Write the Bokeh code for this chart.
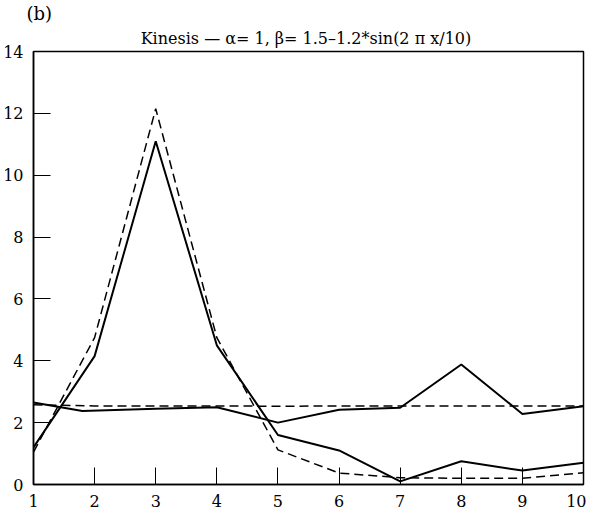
from bokeh.plotting import figure
from bokeh.models import Range1d, FixedTicker, Title
from bokeh.embed import file_html
from bokeh.resources import INLINE

# data
x = [1, 2, 3, 4, 5, 6, 7, 8, 9, 10]
solid_peak = [1.2, 4.15, 11.1, 4.5, 1.6, 1.1, 0.1, 0.75, 0.45, 0.7]
dashed_peak = [1.05, 4.75, 12.15, 4.75, 1.12, 0.37, 0.22, 0.2, 0.2, 0.38]
solid_flat_x = [1, 1.8, 3, 4, 5, 6, 7, 8, 9, 10]
solid_flat = [2.65, 2.38, 2.45, 2.5, 2.0, 2.42, 2.48, 3.88, 2.28, 2.53]
dashed_flat = [2.58, 2.54, 2.54, 2.54, 2.53, 2.54, 2.54, 2.54, 2.54, 2.54]
x_ticks = [1, 2, 3, 4, 5, 6, 7, 8, 9, 10]
y_ticks = [0, 2, 4, 6, 8, 10, 12, 14]
title_text = "Kinesis \u2014 \u03b1= 1,  \u03b2= 1.5\u20131.2*sin(2 \u03c0 x/10)"
panel_text = "(b)"

FONT = "DejaVu Serif"

p = figure(width=586, height=514, output_backend="svg", toolbar_location=None,
           x_range=Range1d(1, 10), y_range=Range1d(0, 14),
           min_border_left=32, min_border_right=3, min_border_top=47, min_border_bottom=30)
p.background_fill_color = "white"
p.border_fill_color = "white"
p.grid.visible = False
p.outline_line_color = "black"
p.outline_line_width = 1.5
p.outline_line_alpha = 1.0

p.title = Title(text=panel_text, align="left", offset=-7, standoff=0,
                text_font=FONT, text_font_size="18px", text_font_style="normal",
                text_color="black")
p.add_layout(Title(text=title_text, align="center", offset=-12, standoff=7,
                   text_font=FONT, text_font_size="16px", text_font_style="normal",
                   text_color="black"), "above")

for ax, ticks in ((p.xaxis[0], x_ticks), (p.yaxis[0], y_ticks)):
    ax.ticker = FixedTicker(ticks=ticks)
    ax.major_tick_in = 17
    ax.major_tick_out = 0
    ax.minor_tick_in = 0
    ax.minor_tick_out = 0
    ax.major_tick_line_color = "black"
    ax.major_tick_line_width = 1
    ax.axis_line_color = "black"
    ax.axis_line_width = 1.5
    ax.major_label_text_font = FONT
    ax.major_label_text_font_size = "16px"
    ax.major_label_text_color = "black"
p.xaxis.major_label_standoff = 10
p.yaxis.major_label_standoff = 10

p.line(x, dashed_peak, line_color="black", line_width=1.5, line_dash="9 5")
p.line(x, dashed_flat, line_color="black", line_width=1.5, line_dash="9 5")
p.line(x, solid_peak, line_color="black", line_width=2)
p.line(solid_flat_x, solid_flat, line_color="black", line_width=2)

open("out.html", "w").write(file_html(p, INLINE))
